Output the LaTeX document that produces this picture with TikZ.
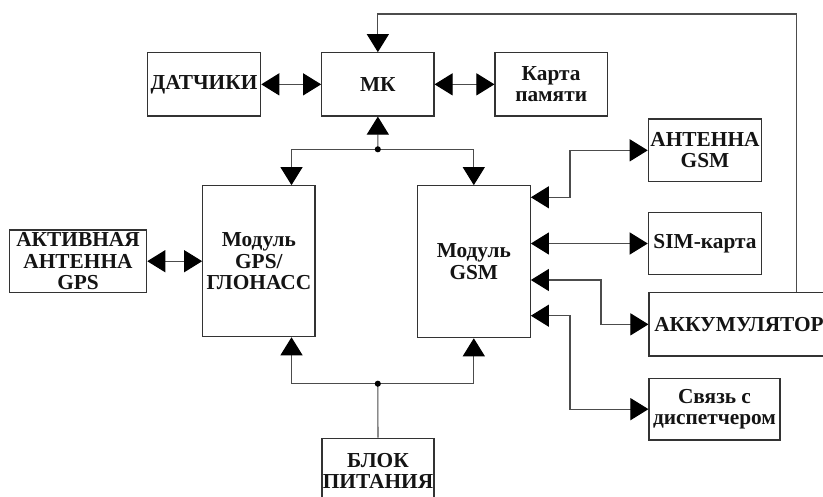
\documentclass[tikz,border=0pt]{standalone}
\usepackage{fontspec}
\setmainfont{Liberation Serif}
\usetikzlibrary{arrows.meta}
\tikzset{
  blk/.style={draw=black!80, line width=0.85pt, inner sep=0pt, align=center,
    font=\fontsize{16}{16}\selectfont\bfseries, text=black!92},
  conn/.style={draw=black!70, line width=0.8pt},
  oneway/.style={conn, -{Triangle[length=13.5pt,width=16.5pt,color=black]}},
  twoway/.style={conn, {Triangle[length=13.5pt,width=16.5pt,color=black]}-{Triangle[length=13.5pt,width=16.5pt,color=black]}},
  jdot/.style={fill=black}
}
\newcommand\mybox[6]{\node[blk, minimum width={(#4-#2)*0.75pt}, minimum height={(#5-#3)*0.75pt}] (#1) at ({(#2+#4)/2},{(#3+#5)/2}) {#6};}
\begin{document}
\begin{tikzpicture}[x=0.75pt,y=-0.75pt]
\useasboundingbox (0,0) rectangle (823,496);
\clip (0,0) rectangle (823,496);
\fill[white] (0,0) rectangle (823,496);
% boxes
\mybox{dat}{147.3}{52.7}{260.7}{116}{ДАТЧИКИ}
\mybox{mk}{321.7}{52.7}{434}{116}{МК}
\mybox{mem}{495}{52.7}{607.3}{116}{Карта\\памяти}
\mybox{akt}{9.3}{230}{146.7}{292.4}{АКТИВНАЯ\\АНТЕННА\\GPS}
\mybox{gps}{202.7}{185.7}{315}{336.7}{Модуль\\GPS/\\ГЛОНАСС}
\mybox{gsm}{417.3}{185.7}{530.3}{337.7}{Модуль\\GSM}
\mybox{ant}{648.3}{119}{761.7}{181.7}{АНТЕННА\\GSM}
\mybox{sim}{648.3}{212.7}{761.7}{274.3}{SIM-карта}
\mybox{akk}{649}{292.7}{829}{356}{АККУМУЛЯТОР}
\mybox{svz}{649}{378.3}{780}{440}{Связь с\\диспетчером}
\mybox{bp}{322}{438.3}{434}{504}{БЛОК\\ПИТАНИЯ}
% helper coordinates
\coordinate (fbx) at (796.7,14);
\coordinate (j1) at (377.8,149.3);
\coordinate (j2) at (377.8,383.7);
\coordinate (gpsx) at (291.5,0);
\coordinate (ya) at (570,197.3);
\coordinate (yk) at (601,280);
\coordinate (ys) at (570,315.7);
% top row
\draw[twoway] (dat.east) -- (mk.west);
\draw[twoway] (mk.east) -- (mem.west);
% feedback from battery to MK
\draw[oneway] (akk.north -| fbx) -- (fbx) -| (mk.north);
% MK bus
\draw[oneway] (j1) -- (mk.south);
\draw[oneway] (j1) -| (gps.north -| gpsx);
\draw[oneway] (j1) -| (gsm.north);
\fill[jdot] (j1) circle[radius=2.3pt];
% power bus
\draw[conn] (bp.north) -- (j2);
\draw[oneway] (j2) -| (gps.south -| gpsx);
\draw[oneway] (j2) -| (gsm.south);
\fill[jdot] (j2) circle[radius=2.3pt];
% GPS antenna
\draw[twoway] (akt.east) -- (akt.east -| gps.west);
% GSM peripherals
\draw[twoway] (gsm.east |- ya) -- (ya) |- (ant.west);
\draw[twoway] (gsm.east |- sim.west) -- (sim.west);
\draw[twoway] (gsm.east |- yk) -- (yk) |- (akk.west);
\draw[twoway] (gsm.east |- ys) -- (ys) |- (svz.west);
\end{tikzpicture}
\end{document}
